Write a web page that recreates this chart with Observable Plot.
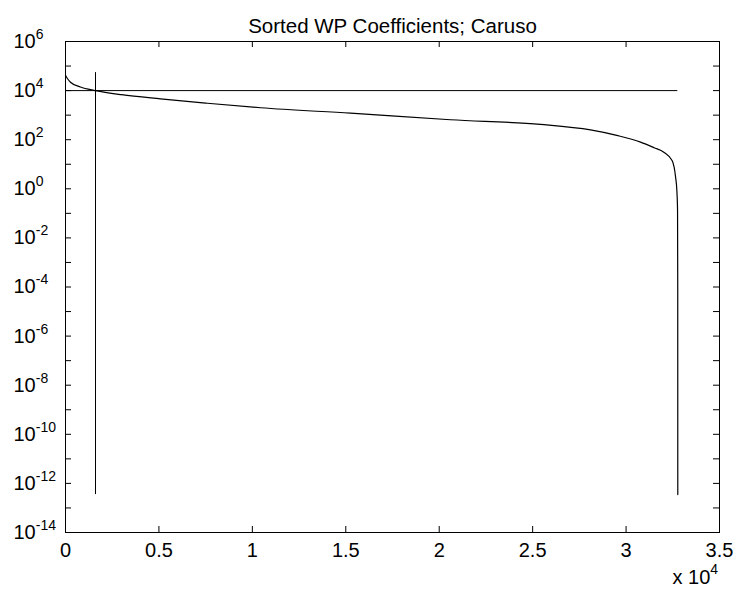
<!DOCTYPE html>
<html>
<head>
<meta charset="utf-8">
<script src="https://cdn.jsdelivr.net/npm/d3@7"></script>
<script src="https://cdn.jsdelivr.net/npm/@observablehq/plot@0.6"></script>
<style>
  html, body { margin: 0; padding: 0; background: #fff; }
  #chart svg { display: block; }
</style>
</head>
<body>
<div id="chart"></div>
<script>
// ---- data ----
const titleText = "Sorted WP Coefficients; Caruso";
const coefIndex = [1, 100, 267, 800, 1606, 3000, 5084, 7500, 10437, 15253, 20605, 25422, 28098, 29500, 30774, 31500, 32020, 32470, 32650, 32720, 32755, 32765, 32768];
const coefValue = [4.2e4, 3.1e4, 2.2e4, 1.4e4, 1.0e4, 6.8e3, 4.6e3, 3.1e3, 2.0e3, 1.2e3, 650, 420, 250, 150, 80, 47, 31, 14, 3.0, 0.8, 0.13, 1e-4, 3.5e-13];
const thresholdValue = [1e4];          // horizontal line level
const thresholdXRange = [0, 32768];    // its extent
const cutIndex = [1606];               // vertical line position
const cutYRange = [3.5e-13, 5.4e4];    // its extent
const xTicks = [0, 5000, 10000, 15000, 20000, 25000, 30000, 35000];
const yLabelExps = [6, 4, 2, 0, -2, -4, -6, -8, -10, -12, -14];
const yTickExps = d3.range(-14, 7);
const xExponentLabel = ["x 10", "4"];

const curve = coefIndex.map((x, i) => ({x, y: coefValue[i]}));
const yLabelTicks = yLabelExps.map(e => Math.pow(10, e));
const yAllTicks = yTickExps.map(e => Math.pow(10, e));

const W = 736, H = 595;
const mT = 41, mB = 63, mL = 65, mR = 17;
const pW = W - mL - mR, pH = H - mT - mB;
const font = "'Liberation Sans', Arial, Helvetica, sans-serif";

const plot = Plot.plot({
  width: W, height: H,
  marginTop: mT, marginBottom: mB, marginLeft: mL, marginRight: mR,
  style: {fontFamily: font, fontSize: "20px", color: "black", background: "white"},
  x: {domain: [0, 35000]},
  y: {type: "log", domain: [1e-14, 1e6]},
  marks: [
    Plot.axisX({ticks: xTicks, tickSize: 0, tickPadding: 10, tickFormat: d => String(d / 1e4), fontSize: 20, label: null}),
    Plot.axisY({ticks: yLabelTicks, tickSize: 0, tickPadding: 0, dx: -52, textAnchor: "start",
      tickFormat: d => "10^" + Math.round(Math.log10(d)), fontSize: 20, label: null}),
    // inward ticks
    Plot.tickY(yAllTicks, {y: d => d, insetRight: pW - 6, stroke: "black"}),
    Plot.tickY(yAllTicks, {y: d => d, insetLeft: pW - 6, stroke: "black"}),
    Plot.tickX(xTicks, {x: d => d, insetTop: pH - 6, stroke: "black"}),
    Plot.tickX(xTicks, {x: d => d, insetBottom: pH - 6, stroke: "black"}),
    Plot.ruleY(thresholdValue, {y: d => d, x1: thresholdXRange[0], x2: thresholdXRange[1], stroke: "black", strokeWidth: 1}),
    Plot.ruleX(cutIndex, {x: d => d, y1: cutYRange[0], y2: cutYRange[1], stroke: "black", strokeWidth: 1}),
    Plot.line(curve, {x: "x", y: "y", stroke: "black", strokeWidth: 1.2, curve: "monotone-x"}),
    Plot.frame({stroke: "black", strokeWidth: 1}),
    Plot.text([titleText], {text: d => d, frameAnchor: "top", dy: -23.4, fontSize: 20.5}),
    Plot.text([xExponentLabel[0]], {text: d => d, frameAnchor: "bottom-right", textAnchor: "start", dx: -47, dy: 51.6, fontSize: 20})
  ]
});

document.getElementById("chart").appendChild(plot);

// superscripts for the y tick labels
d3.select(plot).selectAll("g[aria-label='y-axis tick label'] text").each(function() {
  const t = d3.select(this);
  const s = t.text();
  const parts = s.split("^");
  if (parts.length === 2) {
    t.text(null);
    t.append("tspan").text(parts[0]);
    t.append("tspan").attr("dy", "-9").attr("font-size", 14).text(parts[1]);
  }
});
// superscript for the x multiplier label
d3.select(plot).selectAll("text").filter(function() { return this.textContent === xExponentLabel[0]; }).each(function() {
  d3.select(this).append("tspan").attr("dy", "-10").attr("font-size", 14).text(xExponentLabel[1]);
});
</script>
</body>
</html>
